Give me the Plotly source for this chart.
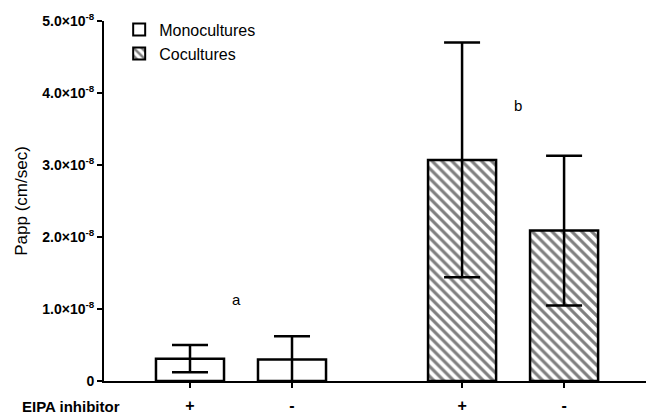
import plotly.graph_objects as go

# Data
groups = ["Monocultures", "Cocultures"]
x_labels = ["+", "-", "+", "-"]
mono_x = [0.0, 1.0]
coc_x = [2.667, 3.667]
mono_vals = [0.31e-8, 0.30e-8]
mono_err = [0.19e-8, 0.32e-8]
coc_vals = [3.07e-8, 2.09e-8]
coc_err = [1.63e-8, 1.04e-8]
y_ticks = [0, 1e-8, 2e-8, 3e-8, 4e-8, 5e-8]
y_ticktext = ["<b>0</b>"] + [f"<b>{v}×10<sup>-8</sup></b>" for v in ["1.0", "2.0", "3.0", "4.0", "5.0"]]
letters = ["a", "b"]
letter_pos = [(0.46, 1.13e-8), (3.22, 3.82e-8)]

font = "Liberation Sans, Arial, sans-serif"

fig = go.Figure()
fig.add_trace(go.Bar(
    x=mono_x, y=mono_vals, name=groups[0], width=0.667,
    marker=dict(color="white", line=dict(color="black", width=2.5)),
    error_y=dict(type="data", array=mono_err, visible=True, color="black", thickness=2.5, width=18),
))
fig.add_trace(go.Bar(
    x=coc_x, y=coc_vals, name=groups[1], width=0.667,
    marker=dict(color="white", line=dict(color="black", width=2.5),
                pattern=dict(shape="\\", fgcolor="black", bgcolor="white", size=7, solidity=0.45)),
    error_y=dict(type="data", array=coc_err, visible=True, color="black", thickness=2.5, width=18),
))

for t, (lx, ly) in zip(letters, letter_pos):
    fig.add_annotation(x=lx, y=ly, text=t, showarrow=False, xref="x", yref="y",
                       font=dict(family=font, size=15, color="black"))

fig.add_annotation(x=-0.06, y=-0.072, xref="paper", yref="paper", text="<b>EIPA inhibitor</b>",
                   xanchor="center", yanchor="middle",
                   showarrow=False, font=dict(family=font, size=15, color="black"))

fig.update_layout(
    width=646, height=416,
    margin=dict(l=104, r=0, t=21, b=35),
    plot_bgcolor="white", paper_bgcolor="white",
    barmode="overlay",
    showlegend=True,
    legend=dict(x=0.028, y=1.023, xanchor="left", yanchor="top",
                font=dict(family=font, size=16, color="black"),
                bgcolor="rgba(0,0,0,0)", tracegroupgap=2, itemsizing="constant"),
    font=dict(family=font, color="black"),
)

fig.update_xaxes(
    range=[-0.843, 4.47], tickvals=mono_x + coc_x, ticktext=[f"<b>{t}</b>" for t in x_labels],
    showline=True, linecolor="black", linewidth=2, ticks="outside", ticklen=5, tickwidth=1.5,
    tickcolor="black", showgrid=False, zeroline=False,
    tickfont=dict(family=font, size=16, color="black"), ticklabelstandoff=4,
)
fig.update_yaxes(
    range=[0, 5e-8], tickvals=y_ticks, ticktext=y_ticktext,
    showline=True, linecolor="black", linewidth=2, ticks="outside", ticklen=5, tickwidth=2,
    tickcolor="black", showgrid=False, zeroline=False,
    tickfont=dict(family=font, size=14, color="black"),
    title=dict(text="Papp (cm/sec)", font=dict(family=font, size=17, color="black"), standoff=10),
)

fig.write_html("out.html", post_script="document.body.style.margin='0';",
               config={"displayModeBar": False})
